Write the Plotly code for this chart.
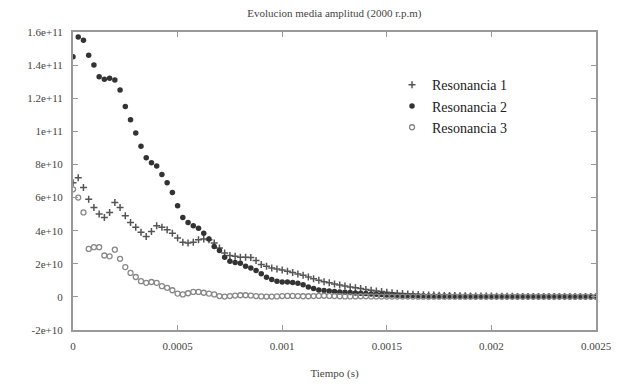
import plotly.graph_objects as go

# Time step between samples (s)
dt = 2.5e-5

# Values in units of 1e9
res1 = [69, 72, 66, 59, 54, 50, 48, 51, 57, 54,
        49, 45, 42, 39, 36.5, 39.5, 43, 42, 40.5, 38.5,
        35.5, 33, 32.5, 33, 34.5, 35, 34.5, 32.5, 29.5, 26.5,
        25, 24.5, 24, 24, 23.8, 22, 19.5, 18.5, 17.5, 16.8,
        16.2, 15.5, 14.8, 13.8, 13, 12, 11, 10, 9.2, 8.5,
        7.8, 7.2, 6.6, 6.0, 5.5, 5.0, 4.5, 4.0, 3.6, 3.2,
        2.8, 2.5, 2.2, 2.0, 1.8, 1.6, 1.4, 1.3, 1.2, 1.1,
        1.0, 0.9, 0.8, 0.8, 0.7, 0.7, 0.6, 0.6, 0.5, 0.5,
        0.5, 0.4, 0.4, 0.4, 0.4, 0.3, 0.3, 0.3, 0.3, 0.3,
        0.3, 0.2, 0.2, 0.2, 0.2, 0.2, 0.2, 0.2, 0.2, 0.2, 0.2]

res2 = [145, 157, 155, 146, 140, 133, 131.5, 132, 131, 125,
        115, 107, 99, 91, 84, 81, 79, 74, 69, 63,
        55, 48, 45, 43, 41.5, 38.5, 35, 30.5, 28, 24,
        21.5, 20.8, 20.3, 18.5, 17.5, 16, 14, 11.8, 10.5, 9.5,
        9, 9, 8.7, 8.2, 7.3, 6, 5, 4.2,
        3.8, 3.5, 3.3, 3.0, 2.8, 2.6, 2.4, 2.2, 2.0, 1.8, 1.6, 1.4, 1.2,
        1.1, 1.0, 0.9, 0.8, 0.8, 0.7, 0.7, 0.6, 0.6, 0.5,
        0.5, 0.5, 0.4, 0.4, 0.4, 0.4, 0.3, 0.3, 0.3, 0.3,
        0.3, 0.3, 0.3, 0.2, 0.2, 0.2, 0.2, 0.2, 0.2, 0.2,
        0.2, 0.2, 0.2, 0.2, 0.1, 0.1, 0.1, 0.1, 0.1, 0.1]

res3 = [65, 60, 51, 29, 30, 30, 25, 24.5, 28.5, 23,
        18, 14.5, 12, 9.5, 8.5, 9, 8.5, 6.5, 5.5, 4,
        2, 1.5, 2.2, 3, 3, 2.5, 2, 1.5, 0.5, 0.2,
        0.5,
        0.8, 1.0, 1.0, 0.8, 0.5, 0.3, 0.2, 0.2, 0.3, 0.5,
        0.6, 0.6, 0.5, 0.4, 0.4, 0.5, 0.6, 0.7, 0.6, 0.5,
        0.4, 0.3, 0.3, 0.3, 0.4, 0.4, 0.3, 0.3, 0.2, 0.2,
        0.2, 0.2, 0.2, 0.2, 0.2, 0.1, 0.1, 0.1, 0.1, 0.1,
        0.1, 0.1, 0.1, 0.1, 0.1, 0.1, 0.1, 0.1, 0.1, 0.1,
        0.1, 0.1, 0.1, 0.1, 0.1, 0.1, 0.1, 0.1, 0.1, 0.1,
        0.1, 0.1, 0.1, 0.1, 0.1, 0.1, 0.1, 0.1, 0.1, 0.1]

names = ["Resonancia 1", "Resonancia 2", "Resonancia 3"]

x_ticks = [0, 0.0005, 0.001, 0.0015, 0.002, 0.0025]
x_ticktext = ["0", "0.0005", "0.001", "0.0015", "0.002", "0.0025"]
y_ticks = [-2e10, 0, 2e10, 4e10, 6e10, 8e10, 1e11, 1.2e11, 1.4e11, 1.6e11]
y_ticktext = ["-2e+10", "0", "2e+10", "4e+10", "6e+10", "8e+10",
              "1e+11", "1.2e+11", "1.4e+11", "1.6e+11"]

SCALE = 1e9
FONT = "Liberation Serif"


def times(vals):
    return [i * dt for i in range(len(vals))]


fig = go.Figure()
fig.add_trace(go.Scatter(
    x=times(res1), y=[v * SCALE for v in res1], mode="markers", name=names[0],
    marker=dict(symbol="cross-thin", size=5, color="#555555",
                line=dict(color="#555555", width=1.5)),
))
fig.add_trace(go.Scatter(
    x=times(res2), y=[v * SCALE for v in res2], mode="markers", name=names[1],
    marker=dict(symbol="circle", size=5.5, color="#333333"),
))
fig.add_trace(go.Scatter(
    x=times(res3), y=[v * SCALE for v in res3], mode="markers", name=names[2],
    marker=dict(symbol="circle-open", size=5, color="#888888",
                line=dict(color="#888888", width=1.3)),
))

axis_common = dict(
    showgrid=False, zeroline=False, showline=True, linecolor="#999999",
    linewidth=2, mirror="ticks", ticks="inside", ticklen=5, tickcolor="#999999",
    tickfont=dict(family=FONT, size=11, color="#444444"), automargin=False,
)

fig.update_layout(
    width=625, height=386,
    margin=dict(l=73, r=29, t=32, b=56),
    paper_bgcolor="white", plot_bgcolor="white",
    font=dict(family=FONT, color="#333333"),
    title=dict(text="Evolucion media amplitud (2000 r.p.m)", x=0.535, xanchor="center",
               y=0.967, yanchor="middle", font=dict(family=FONT, size=11, color="#444444")),
    xaxis=dict(range=[0, 0.0025], tickvals=x_ticks, ticktext=x_ticktext,
               ticklabelstandoff=5,
               title=dict(text="Tiempo (s)", font=dict(family=FONT, size=11, color="#444444"),
                          standoff=18),
               **axis_common),
    yaxis=dict(range=[-2e10, 1.6e11], tickvals=y_ticks, ticktext=y_ticktext,
               ticklabelstandoff=6, **axis_common),
    legend=dict(x=0.61, y=0.875, xanchor="left", yanchor="top",
                bgcolor="rgba(0,0,0,0)", font=dict(family=FONT, size=14, color="#222222"),
                tracegroupgap=2),
    showlegend=True,
)

fig.write_html("out.html")
